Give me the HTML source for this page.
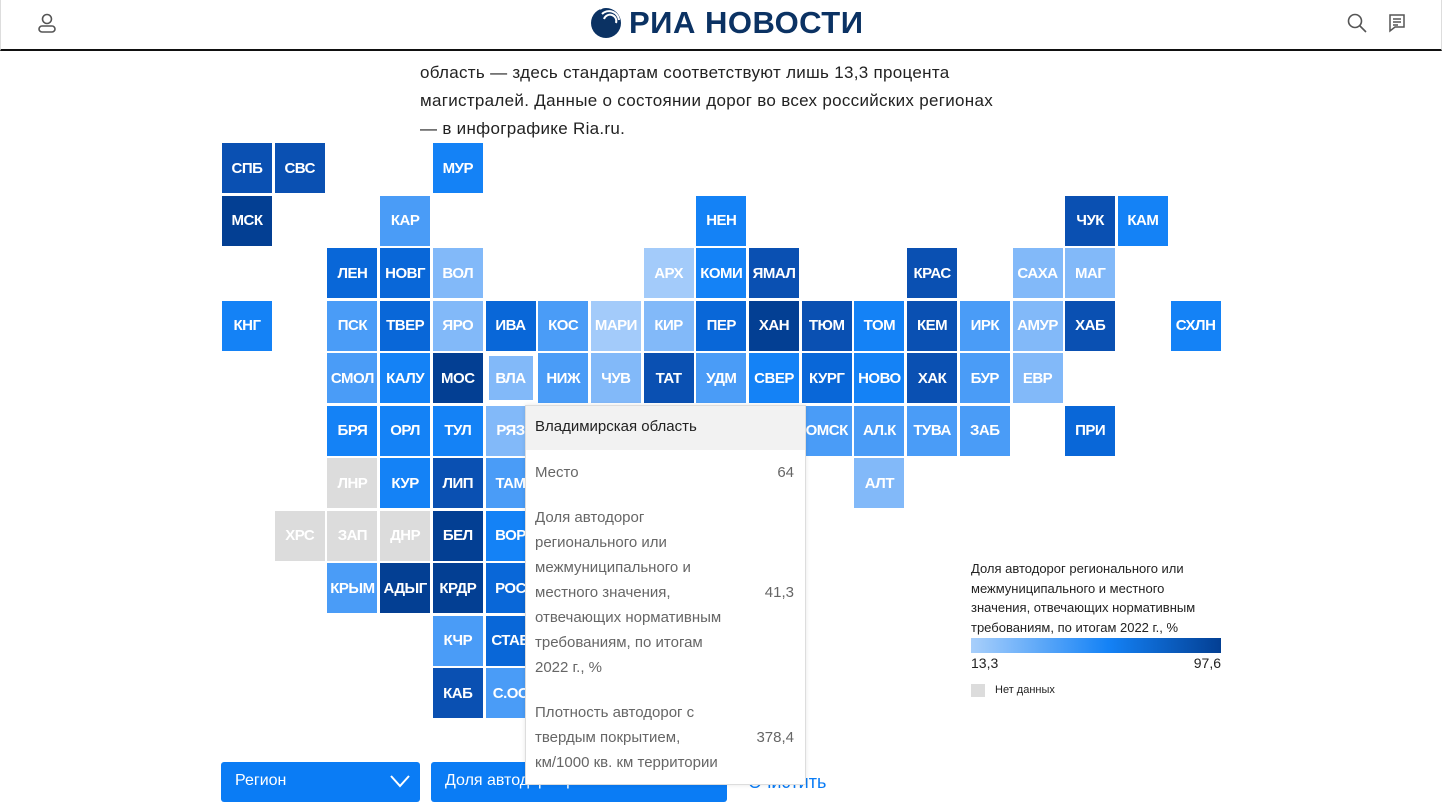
<!DOCTYPE html>
<html><head><meta charset="utf-8"><style>
*{margin:0;padding:0;box-sizing:border-box}
body{width:1442px;height:810px;overflow:hidden;background:#fff;font-family:"Liberation Sans","Noto Sans CJK SC",sans-serif;position:relative}
.hdr{position:absolute;left:0;top:0;width:1442px;height:51px;border-bottom:2px solid #111;border-left:1px solid #ddd;border-right:1px solid #ddd}
.logo{position:absolute;left:628px;top:5px;font-size:31px;font-weight:bold;color:#0b3263;letter-spacing:0.5px}
.txt{position:absolute;left:420px;font-size:17px;color:#222;white-space:nowrap;letter-spacing:0.3px}
.c{position:absolute;width:50px;height:50px;color:#fff;font-size:15px;font-weight:bold;display:flex;align-items:center;justify-content:center;letter-spacing:-0.5px}
.d1{background:#033f93}.d2{background:#0a50b2}.d3{background:#0967d8}.m{background:#1482f6}.l1{background:#4a9cf7}.l2{background:#82b9f9}.l3{background:#a3cbfa}.g{background:#dcdcdc}
.tip{position:absolute;left:525px;top:405px;width:281px;height:380px;background:#fff;border:1px solid #ddd;box-shadow:0 0 4px rgba(0,0,0,.1);font-size:15px;color:#666}
.tip .h{background:#f2f2f2;height:44px;padding:12px 9px;color:#222}
.row{position:absolute;left:9px;right:11px;line-height:25px}
.row .v{position:absolute;right:0}
.btn{position:absolute;top:762px;height:40px;background:#0a7cf5;border-radius:3px;color:#fff;font-size:16px;padding:10px 14px}
</style></head><body>
<div class="hdr">
<svg style="position:absolute;left:35px;top:12px" width="22" height="22" viewBox="0 0 22 22" fill="none" stroke="#555" stroke-width="1.6"><circle cx="11" cy="7" r="4.5"/><rect x="3" y="14" width="16" height="6" rx="3"/></svg>
<svg style="position:absolute;left:589px;top:7px" width="34" height="32" viewBox="0 0 34 32"><circle cx="16" cy="16" r="15" fill="#0b3263"/><g fill="none" stroke="#fff" stroke-width="2"><path d="M10 2a14 14 0 0 1 22 8"/><path d="M12 7a10 10 0 0 1 17 6"/><path d="M14 12a6 6 0 0 1 12 4"/></g></svg>
<div class="logo">РИА НОВОСТИ</div>
<svg style="position:absolute;left:1346px;top:13px" width="20" height="20" viewBox="0 0 20 20" fill="none" stroke="#555" stroke-width="1.6"><circle cx="8" cy="8" r="6.5"/><path d="M13 13l6 6"/></svg>
<svg style="position:absolute;left:1386px;top:13px" width="20" height="20" viewBox="0 0 20 20" fill="none" stroke="#555" stroke-width="1.5"><path d="M3 2h14v12H8l-5 4z"/><path d="M6 6h8M6 9h8M6 12h5"/></svg>
</div>
<div class="txt" style="top:63px">область — здесь стандартам соответствуют лишь 13,3 процента</div>
<div class="txt" style="top:91px">магистралей. Данные о состоянии дорог во всех российских регионах</div>
<div class="txt" style="top:119px">— в инфографике Ria.ru.</div>
<div id="grid"></div>
<script>
var X=c=>222+c*52.7,Y=r=>143+r*52.5;
var cells=[
[0,0,"СПБ","d2"],[0,1,"СВС","d2"],[0,4,"МУР","m"],
[1,0,"МСК","d1"],[1,3,"КАР","l1"],[1,9,"НЕН","m"],[1,16,"ЧУК","d2"],[1,17,"КАМ","m"],
[2,2,"ЛЕН","d3"],[2,3,"НОВГ","d3"],[2,4,"ВОЛ","l2"],[2,8,"АРХ","l3"],[2,9,"КОМИ","m"],[2,10,"ЯМАЛ","d2"],[2,13,"КРАС","d2"],[2,15,"САХА","l2"],[2,16,"МАГ","l2"],
[3,0,"КНГ","m"],[3,2,"ПСК","l1"],[3,3,"ТВЕР","d3"],[3,4,"ЯРО","l2"],[3,5,"ИВА","d3"],[3,6,"КОС","l1"],[3,7,"МАРИ","l3"],[3,8,"КИР","l2"],[3,9,"ПЕР","d3"],[3,10,"ХАН","d1"],[3,11,"ТЮМ","d2"],[3,12,"ТОМ","m"],[3,13,"КЕМ","d2"],[3,14,"ИРК","l1"],[3,15,"АМУР","l2"],[3,16,"ХАБ","d2"],[3,18,"СХЛН","m"],
[4,2,"СМОЛ","l1"],[4,3,"КАЛУ","m"],[4,4,"МОС","d1"],[4,5,"ВЛА","l2"],[4,6,"НИЖ","l1"],[4,7,"ЧУВ","l2"],[4,8,"ТАТ","d2"],[4,9,"УДМ","l1"],[4,10,"СВЕР","m"],[4,11,"КУРГ","d3"],[4,12,"НОВО","m"],[4,13,"ХАК","d2"],[4,14,"БУР","l1"],[4,15,"ЕВР","l2"],
[5,2,"БРЯ","m"],[5,3,"ОРЛ","m"],[5,4,"ТУЛ","m"],[5,5,"РЯЗ","l2"],[5,11,"ОМСК","l1"],[5,12,"АЛ.К","l1"],[5,13,"ТУВА","l1"],[5,14,"ЗАБ","l1"],[5,16,"ПРИ","d3"],
[6,2,"ЛНР","g"],[6,3,"КУР","m"],[6,4,"ЛИП","d2"],[6,5,"ТАМ","l1"],[6,12,"АЛТ","l2"],
[7,1,"ХРС","g"],[7,2,"ЗАП","g"],[7,3,"ДНР","g"],[7,4,"БЕЛ","d1"],[7,5,"ВОР","m"],
[8,2,"КРЫМ","l1"],[8,3,"АДЫГ","d1"],[8,4,"КРДР","d1"],[8,5,"РОС","d3"],
[9,4,"КЧР","l1"],[9,5,"СТАВ","d3"],
[10,4,"КАБ","d2"],[10,5,"С.ОС","l1"]];
var h="";cells.forEach(function(a){var s="left:"+X(a[1]).toFixed(1)+"px;top:"+Y(a[0]).toFixed(1)+"px";if(a[2]=="ВЛА")s+=";width:44px;height:44px;margin:3px";h+='<div class="c '+a[3]+'" style="'+s+'">'+a[2]+'</div>'});
document.getElementById("grid").innerHTML=h;
</script>
<div class="btn" style="left:221px;width:199px">Регион<svg style="position:absolute;right:10px;top:12px" width="20" height="14" viewBox="0 0 20 14" fill="none" stroke="#fff" stroke-width="2"><path d="M1 2l9 10 9-10"/></svg></div>
<div class="btn" style="left:431px;width:296px">Доля автодорог регионально...</div>
<div style="position:absolute;left:748px;top:772px;font-size:18px;color:#0a7cf5">Очистить</div>
<div class="tip">
<div class="h">Владимирская область</div>
<div class="row" style="top:54px">Место<span class="v">64</span></div>
<div class="row" style="top:99px">Доля автодорог<br>регионального или<br>межмуниципального и<br>местного значения,<br>отвечающих нормативным<br>требованиям, по итогам<br>2022 г., %<span class="v" style="top:75px">41,3</span></div>
<div class="row" style="top:294px">Плотность автодорог с<br>твердым покрытием,<br>км/1000 кв. км территории<span class="v" style="top:25px">378,4</span></div>
</div>
<div style="position:absolute;left:971px;top:559px;font-size:13px;color:#222;line-height:19.5px">Доля автодорог регионального или<br>межмуниципального и местного<br>значения, отвечающих нормативным<br>требованиям, по итогам 2022 г., %</div>
<div style="position:absolute;left:971px;top:638px;width:250px;height:15px;background:linear-gradient(90deg,#a8cffb,#1482f6 55%,#033f93)"></div>
<div style="position:absolute;left:971px;top:655px;font-size:14px;color:#222">13,3</div>
<div style="position:absolute;left:1171px;width:50px;text-align:right;top:655px;font-size:14px;color:#222">97,6</div>
<div style="position:absolute;left:971px;top:684px;width:14px;height:13px;background:#dcdcdc"></div>
<div style="position:absolute;left:995px;top:684px;font-size:11px;color:#222">Нет данных</div>
</body></html>
